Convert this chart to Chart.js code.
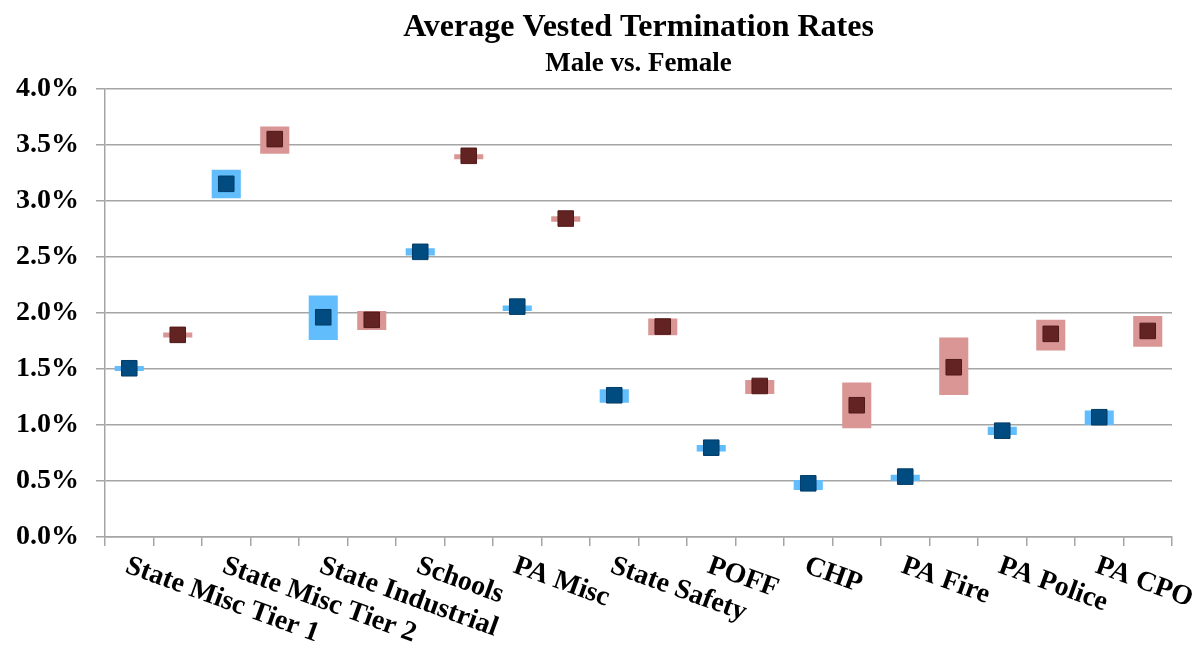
<!DOCTYPE html>
<html>
<head>
<meta charset="utf-8">
<title>Average Vested Termination Rates</title>
<script src="https://cdn.jsdelivr.net/npm/chart.js@4.4.1/dist/chart.umd.min.js"></script>
<style>
  html, body { margin: 0; padding: 0; background: #fff; }
  #wrap { width: 1204px; height: 645px; }
</style>
</head>
<body>
<div id="wrap"><canvas id="rates" width="1204" height="645"></canvas></div>
<script>
// plan groups on the x axis
const categories = ['State Misc Tier 1', 'State Misc Tier 2', 'State Industrial', 'Schools', 'PA Misc',
  'State Safety', 'POFF', 'CHP', 'PA Fire', 'PA Police', 'PA CPO'];

// average rate (%) plus the low/high range behind each marker
const maleAvg  = [1.506, 3.152, 1.961, 2.545, 2.056, 1.265, 0.797, 0.479, 0.539, 0.949, 1.069];
const maleLow  = [1.482, 3.024, 1.759, 2.512, 2.018, 1.199, 0.762, 0.420, 0.500, 0.911, 1.000];
const maleHigh = [1.527, 3.277, 2.155, 2.578, 2.065, 1.319, 0.821, 0.509, 0.556, 0.985, 1.128];

const femaleAvg  = [1.804, 3.551, 1.938, 3.402, 2.842, 1.878, 1.348, 1.176, 1.515, 1.813, 1.839];
const femaleLow  = [1.780, 3.420, 1.848, 3.372, 2.813, 1.800, 1.277, 0.970, 1.268, 1.664, 1.699];
const femaleHigh = [1.824, 3.663, 2.018, 3.417, 2.863, 1.949, 1.402, 1.378, 1.780, 1.938, 1.973];

const yTicks = [0, 0.5, 1.0, 1.5, 2.0, 2.5, 3.0, 3.5, 4.0];

const FONT = "'Liberation Serif', 'Times New Roman', serif";
const GRID = '#a5a5a5';

// every group gets two slots: male then female
const slots = categories.flatMap(c => [c, '']);
const maleSlot = arr => arr.flatMap(v => [v, null]);
const femaleSlot = arr => arr.flatMap(v => [null, v]);
const maleRange = maleLow.flatMap((lo, i) => [[lo, maleHigh[i]], null]);
const femaleRange = femaleLow.flatMap((lo, i) => [null, [lo, femaleHigh[i]]]);

// slanted group names, starting under the male slot
const slantLabels = {
  id: 'slantLabels',
  afterDraw(chart) {
    const xs = chart.scales.x;
    const ctx = chart.ctx;
    ctx.save();
    ctx.font = 'bold 28px ' + FONT;
    ctx.fillStyle = '#000';
    ctx.textAlign = 'left';
    ctx.textBaseline = 'alphabetic';
    categories.forEach((name, i) => {
      ctx.save();
      ctx.translate(xs.getPixelForValue(i * 2) + 1, xs.top + 18);
      ctx.rotate(20 * Math.PI / 180);
      ctx.fillText(name, 0, 18);
      ctx.restore();
    });
    ctx.restore();
  }
};

new Chart(document.getElementById('rates'), {
  data: {
    labels: slots,
    datasets: [
      {
        type: 'line', label: 'Male', data: maleSlot(maleAvg), order: 0,
        showLine: false, pointStyle: 'rect', pointRadius: 11, pointHoverRadius: 11,
        backgroundColor: '#004b7f', borderColor: '#003d68', borderWidth: 1
      },
      {
        type: 'line', label: 'Female', data: femaleSlot(femaleAvg), order: 0,
        showLine: false, pointStyle: 'rect', pointRadius: 11, pointHoverRadius: 11,
        backgroundColor: '#632322', borderColor: '#511a19', borderWidth: 1
      },
      {
        type: 'bar', label: 'Male range', data: maleRange, order: 1, grouped: false,
        backgroundColor: '#61bdfc', barPercentage: 0.6, categoryPercentage: 1
      },
      {
        type: 'bar', label: 'Female range', data: femaleRange, order: 1, grouped: false,
        backgroundColor: '#da9695', barPercentage: 0.6, categoryPercentage: 1
      }
    ]
  },
  options: {
    responsive: false,
    animation: false,
    layout: { padding: { left: 0, right: 32, top: 0, bottom: 0 } },
    plugins: {
      legend: { display: false },
      tooltip: { enabled: false },
      title: {
        display: true, fullSize: false,
        text: 'Average Vested Termination Rates',
        color: '#000',
        font: { family: FONT, size: 32, weight: 'bold' },
        padding: { top: 9, bottom: 0 }
      },
      subtitle: {
        display: true, fullSize: false,
        text: 'Male vs. Female',
        color: '#000',
        font: { family: FONT, size: 27, weight: 'bold' },
        padding: { top: 0, bottom: 9 }
      }
    },
    scales: {
      x: {
        type: 'category',
        offset: true,
        afterFit(scale) { scale.height = 108; },
        grid: { drawOnChartArea: false, offset: true, color: GRID, lineWidth: 1.5, tickLength: 9 },
        border: { color: GRID, width: 1.5 },
        ticks: { display: false }
      },
      y: {
        min: 0, max: 4,
        afterFit(scale) { scale.width = 105; },
        afterBuildTicks(scale) { scale.ticks = yTicks.map(v => ({ value: v })); },
        grid: { color: GRID, lineWidth: 1.5, tickLength: 9 },
        border: { color: GRID, width: 1.5 },
        ticks: {
          padding: 17,
          color: '#000',
          font: { family: FONT, size: 28, weight: 'bold' },
          callback: v => v.toFixed(1) + '%'
        }
      }
    }
  },
  plugins: [slantLabels]
});
</script>
</body>
</html>
